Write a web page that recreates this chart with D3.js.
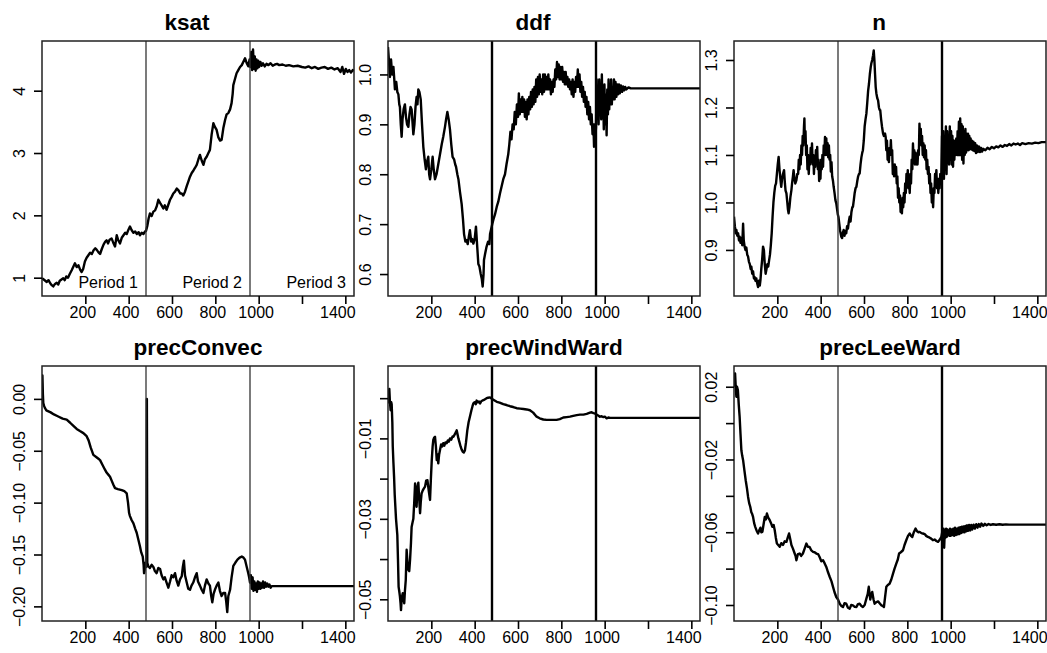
<!DOCTYPE html>
<html>
<head>
<meta charset="utf-8">
<script src="https://cdnjs.cloudflare.com/ajax/libs/d3/7.8.5/d3.min.js"></script>
<style>
  body { margin: 0; background: #fff; }
  svg { display: block; }
  text { font-family: "Liberation Sans", Arial, Helvetica, sans-serif; fill: #000; }
</style>
</head>
<body>
<script>
// x axis (iteration) ticks, shared by all panels
var iterTicks = [200, 400, 600, 800, 1000, 1200, 1400];
var iterLabels = ['200', '400', '600', '800', '1000', '', '1400'];
var iterLim = [0, 1440];
var periodBreaks = [480, 960];
var periodNames = ['Period 1', 'Period 2', 'Period 3'];

// ---- ksat ----
var ksatLim = [0.706, 4.797];
var ksatTicks = [1, 2, 3, 4];
var ksatLabels = ['1', '2', '3', '4'];
var ksat = [[0,0.99],[8,0.97],[15,0.95],[22,0.93],[30,0.96],[38,0.91],[45,0.88],[52,0.86],[60,0.9],[68,0.92],[75,0.89],[82,0.95],[90,0.97],[98,0.99],[105,0.96],[112,1.02],[120,1.0],[128,1.06],[137,1.12],[145,1.18],[152,1.23],[160,1.17],[168,1.2],[176,1.13],[183,1.09],[190,1.14],[198,1.26],[206,1.32],[214,1.36],[222,1.4],[230,1.38],[238,1.44],[246,1.47],[252,1.45],[260,1.41],[268,1.38],[276,1.46],[284,1.53],[292,1.58],[298,1.6],[305,1.55],[312,1.61],[321,1.63],[328,1.57],[337,1.5],[345,1.68],[352,1.6],[360,1.55],[368,1.64],[376,1.68],[384,1.72],[391,1.7],[399,1.77],[406,1.82],[414,1.76],[422,1.72],[430,1.74],[438,1.7],[446,1.73],[452,1.68],[460,1.72],[468,1.7],[475,1.74],[480,1.75],
  [486,1.83],[492,1.95],[498,2.03],[506,1.99],[514,2.06],[522,2.08],[530,2.15],[537,2.25],[545,2.2],[552,2.16],[560,2.11],[567,2.16],[575,2.09],[583,2.17],[591,2.25],[599,2.3],[606,2.35],[614,2.38],[622,2.43],[630,2.4],[638,2.35],[645,2.35],[652,2.32],[660,2.38],[668,2.47],[676,2.55],[683,2.62],[691,2.68],[699,2.72],[706,2.76],[714,2.81],[722,2.9],[729,2.97],[737,2.88],[745,2.81],[752,2.9],[760,2.94],[768,3.0],[775,3.05],[783,3.3],[791,3.48],[798,3.42],[806,3.37],[814,3.25],[822,3.2],[829,3.21],[837,3.4],[845,3.53],[852,3.62],[860,3.64],[868,3.7],[875,3.8],[880,3.95],[883,4.09],[890,4.18],[898,4.28],[906,4.33],[914,4.38],[922,4.41],[930,4.47],[937,4.52],[944,4.45],[952,4.39],[958,4.5],
  [962,4.38],[966,4.62],[970,4.33],[974,4.66],[978,4.35],[982,4.55],[986,4.32],[990,4.5],[994,4.36],[998,4.48],[1002,4.38],[1008,4.46],[1014,4.4],[1020,4.44],[1028,4.39],[1036,4.43],[1045,4.41],[1055,4.44],[1065,4.4],[1075,4.42],[1085,4.43],[1095,4.41],[1110,4.42],[1125,4.4],[1140,4.41],[1160,4.39],[1180,4.4],[1200,4.38],[1215,4.37],[1230,4.39],[1245,4.36],[1260,4.38],[1275,4.35],[1290,4.37],[1305,4.38],[1320,4.35],[1335,4.37],[1350,4.34],[1365,4.36],[1378,4.3],[1386,4.38],[1394,4.27],[1402,4.35],[1410,4.3],[1418,4.33],[1426,4.29],[1434,4.33],[1440,4.32]];

// ---- ddf ----
var ddfLim = [0.556, 1.067];
var ddfTicks = [0.6, 0.7, 0.8, 0.9, 1.0];
var ddfLabels = ['0.6', '0.7', '0.8', '0.9', '1.0'];
var ddf = [[0,1.055],[4,1.03],[9,0.995],[14,1.03],[19,1.0],[25,1.015],[29,0.99],[32,0.97],[38,0.985],[43,0.965],[48,0.96],[52,0.94],[55,0.935],[59,0.9],[63,0.875],[67,0.91],[72,0.93],[78,0.94],[83,0.915],[88,0.9],[94,0.895],[99,0.92],[104,0.935],[109,0.93],[113,0.905],[117,0.88],[122,0.9],[127,0.935],[132,0.955],[136,0.94],[140,0.97],[145,0.965],[151,0.95],[157,0.9],[163,0.855],[169,0.83],[175,0.81],[180,0.825],[186,0.835],[190,0.8],[194,0.79],[200,0.81],[206,0.835],[211,0.81],[217,0.79],[224,0.8],[232,0.82],[240,0.84],[248,0.86],[255,0.875],[263,0.895],[268,0.91],[274,0.925],[280,0.91],[286,0.89],[292,0.86],[298,0.835],[305,0.83],[310,0.82],[314,0.815],[320,0.8],[325,0.79],[332,0.765],[340,0.74],[346,0.71],[351,0.68],[357,0.665],[363,0.668],[368,0.66],[373,0.675],[378,0.688],[384,0.665],[389,0.67],[394,0.661],[400,0.67],[406,0.695],[411,0.66],[417,0.62],[422,0.615],[428,0.6],[433,0.59],[437,0.575],[441,0.6],[443,0.628],[448,0.64],[455,0.655],[462,0.665],[468,0.66],[471,0.68],[476,0.69],[481,0.7],
  [487,0.71],[494,0.72],[502,0.735],[509,0.745],[517,0.762],[524,0.775],[532,0.79],[540,0.8],[547,0.82],[555,0.84],
  [560,0.86],[565,0.885],[570,0.87],[575,0.9],[580,0.89],[585,0.925],[590,0.9],[595,0.94],[600,0.915],[604,0.962],[608,0.92],[612,0.95],[616,0.925],[620,0.955],[624,0.925],[628,0.95],[632,0.915],[636,0.945],[640,0.91],[644,0.95],[648,0.92],[652,0.955],[656,0.93],[660,0.965],[664,0.935],[668,0.97],[672,0.94],[676,0.975],[680,0.945],[684,0.99],[688,0.955],[692,0.995],[696,0.96],[700,1.0],[704,0.965],[708,0.99],[712,0.96],[716,1.0],[720,0.965],[724,1.0],[728,0.97],[732,0.995],[736,0.97],[740,1.0],[744,0.97],[748,0.99],[752,0.96],[756,0.985],[760,0.965],[764,0.99],[768,0.975],[772,1.01],[776,0.99],[780,1.025],[784,0.995],[788,1.02],[792,0.99],[796,1.015],[800,0.99],[804,1.015],[808,0.985],[812,1.005],[816,0.98],[820,1.005],[824,0.98],[828,0.995],[832,0.975],[836,0.99],[840,0.97],[844,0.985],[848,0.96],[852,0.99],[856,0.955],[860,0.985],[864,0.965],[868,0.995],[872,0.975],[876,1.01],[880,0.975],[884,1.0],[888,0.965],[892,0.985],[896,0.955],[900,0.975],[904,0.945],[908,0.965],[912,0.935],[916,0.955],[920,0.92],[924,0.945],[928,0.91],[932,0.935],[936,0.9],[940,0.92],[944,0.88],[948,0.9],[951,0.855],[954,0.9],[957,0.87],[960,0.895],
  [963,0.99],[966,0.93],[969,0.97],[972,0.9],[975,0.99],[978,0.92],[981,0.98],[984,0.91],[987,1.0],[990,0.93],[993,0.96],[996,0.89],[999,0.98],[1002,0.9],[1005,0.96],[1009,0.878],[1012,0.97],[1015,0.92],[1018,0.99],[1021,0.93],[1024,0.98],[1027,0.94],[1030,0.99],[1033,0.94],[1036,0.97],[1040,0.95],[1043,0.99],[1046,0.95],[1050,0.985],[1054,0.955],[1058,0.98],[1062,0.96],[1066,0.98],[1070,0.962],[1075,0.978],[1080,0.965],[1085,0.976],[1090,0.968],[1095,0.975],[1100,0.97],[1110,0.974],[1120,0.972],[1140,0.972],[1440,0.972]];

// ---- n ----
var nLim = [0.803, 1.34];
var nTicks = [0.9, 1.0, 1.1, 1.2, 1.3];
var nLabels = ['0.9', '1.0', '1.1', '1.2', '1.3'];
var nTrace = [[0,0.97],[4,0.95],[8,0.935],[11,0.942],[15,0.93],[19,0.935],[23,0.92],[26,0.928],[30,0.915],[34,0.925],[38,0.91],[42,0.955],[45,0.92],[49,0.907],[53,0.9],[57,0.905],[61,0.89],[65,0.886],[69,0.875],[73,0.87],[77,0.86],[80,0.865],[84,0.85],[88,0.855],[92,0.84],[95,0.843],[99,0.835],[103,0.84],[107,0.83],[111,0.822],[115,0.835],[119,0.825],[122,0.836],[126,0.86],[130,0.88],[134,0.907],[138,0.9],[142,0.87],[146,0.85],[150,0.86],[154,0.87],[158,0.865],[162,0.878],[166,0.89],[170,0.91],[174,0.935],[178,0.97],[182,1.0],[186,1.02],[190,1.035],[194,1.04],[198,1.06],[202,1.08],[206,1.096],[210,1.07],[214,1.05],[218,1.033],[222,1.05],[226,1.06],[231,1.068],[235,1.04],[238,1.025],[242,1.019],[246,1.0],[249,0.985],[252,0.977],[256,0.99],[260,1.01],[265,1.026],[268,1.04],[272,1.055],[275,1.068],[279,1.05],[283,1.04],[288,1.047],[292,1.06],
  [296,1.06],[299,1.09],[302,1.07],[305,1.1],[308,1.08],[311,1.12],[314,1.1],[317,1.14],[320,1.12],[323,1.16],[325,1.177],[327,1.13],[330,1.15],[333,1.1],[336,1.12],[339,1.07],[342,1.1],[345,1.06],[348,1.09],[351,1.08],[354,1.115],[357,1.085],[360,1.124],[363,1.08],[366,1.1],[369,1.06],[372,1.095],[375,1.075],[378,1.11],[381,1.085],[384,1.117],[387,1.07],[390,1.09],[393,1.045],[396,1.075],[399,1.05],[402,1.09],[405,1.07],[408,1.1],[411,1.075],[414,1.12],[417,1.1],[420,1.138],[423,1.1],[426,1.135],[429,1.1],[432,1.125],[435,1.095],[438,1.12],[441,1.09],[444,1.1],[447,1.065],[450,1.085],[453,1.055],[457,1.045],[460,1.033],[464,1.02],[468,1.005],[472,0.998],[476,0.985],[479,0.975],[482,0.97],
  [486,0.955],[490,0.94],[495,0.928],[499,0.925],[502,0.935],[506,0.942],[510,0.93],[514,0.94],[518,0.935],[522,0.95],[526,0.945],[530,0.96],[534,0.97],[538,0.96],[542,0.98],[546,0.99],[549,0.991],[553,1.005],[557,1.02],[561,1.03],[565,1.033],[569,1.045],[573,1.055],[577,1.06],[580,1.061],[584,1.08],[588,1.095],[592,1.105],[595,1.11],[599,1.13],[603,1.16],[607,1.175],[611,1.187],[615,1.21],[619,1.235],[623,1.25],[627,1.27],[631,1.285],[634,1.293],[638,1.3],[642,1.31],[645,1.32],[648,1.3],[651,1.27],[654,1.243],[657,1.23],[661,1.22],[665,1.215],[669,1.2],[672,1.195],[675,1.194],[679,1.175],[683,1.16],[688,1.145],[692,1.14],[697,1.145],
  [700,1.138],[703,1.11],[706,1.13],[709,1.09],[712,1.11],[715,1.085],[718,1.115],[721,1.1],[724,1.131],[727,1.1],[730,1.11],[733,1.06],[736,1.08],[739,1.055],[742,1.08],[745,1.06],[748,1.075],[751,1.04],[754,1.055],[757,1.01],[760,1.03],[763,1.0],[766,1.015],[769,0.98],[772,1.0],[775,0.977],[778,1.01],[781,0.99],[784,1.02],[787,1.0],[790,1.04],[793,1.02],[796,1.06],[799,1.035],[802,1.068],[805,1.03],[808,1.05],[811,1.02],[814,1.06],[817,1.04],[820,1.09],[823,1.07],[826,1.124],[829,1.09],[832,1.11],[835,1.08],[838,1.105],[841,1.08],[844,1.1],[847,1.08],[850,1.11],[853,1.1],[856,1.166],[859,1.13],[862,1.155],[865,1.12],[868,1.14],[871,1.1],[874,1.125],[877,1.095],[880,1.12],[883,1.09],[886,1.11],[889,1.07],[892,1.09],[895,1.06],[898,1.075],[901,1.04],[904,1.06],[907,1.02],[910,1.04],[913,1.0],[916,1.02],[919,0.99],[922,1.03],[925,1.02],[928,1.06],[931,1.04],[934,1.068],[937,1.03],[940,1.05],[943,1.02],[946,1.05],[949,1.03],[952,1.06],[955,1.04],[957,1.061],
  [960,1.14],[963,1.06],[966,1.15],[969,1.05],[972,1.14],[975,1.07],[978,1.16],[981,1.06],[984,1.15],[987,1.09],[990,1.14],[993,1.08],[996,1.16],[999,1.09],[1002,1.15],[1005,1.08],[1008,1.14],[1011,1.075],[1014,1.13],[1017,1.09],[1020,1.13],[1023,1.1],[1026,1.135],[1029,1.1],[1032,1.15],[1035,1.1],[1038,1.17],[1041,1.1],[1044,1.177],[1047,1.1],[1050,1.165],[1053,1.09],[1056,1.16],[1059,1.082],[1062,1.15],[1065,1.1],[1068,1.155],[1071,1.105],[1074,1.145],[1077,1.11],[1080,1.145],[1083,1.11],[1086,1.14],[1089,1.112],[1092,1.135],[1095,1.112],[1098,1.13],[1101,1.11],[1105,1.128],[1109,1.108],[1113,1.125],[1117,1.104],[1121,1.12],[1125,1.106],[1130,1.118],[1135,1.106],[1140,1.115],[1145,1.107],[1150,1.113],[1160,1.11],[1170,1.115],[1180,1.112],[1190,1.117],[1200,1.114],[1210,1.118],[1220,1.116],[1230,1.12],[1240,1.117],[1250,1.121],[1260,1.119],[1270,1.123],[1280,1.12],[1290,1.124],[1300,1.122],[1310,1.124],[1320,1.121],[1330,1.125],[1345,1.123],[1360,1.125],[1375,1.124],[1390,1.126],[1405,1.125],[1420,1.127],[1440,1.127]];

// ---- precConvec ----
var convLim = [-0.2141, 0.0317];
var convTicks = [-0.2, -0.15, -0.1, -0.05, 0];
var convLabels = ['\u22120.20', '\u22120.15', '\u22120.10', '\u22120.05', '0.00'];
var precConvec = [[0,0.0],[2,0.0225],[4,0.005],[6,-0.004],[10,-0.007],[14,-0.009],[20,-0.011],[30,-0.012],[40,-0.013],[55,-0.015],[75,-0.017],[95,-0.019],[114,-0.02],[130,-0.023],[145,-0.026],[160,-0.029],[175,-0.031],[191,-0.033],[206,-0.036],[215,-0.04],[225,-0.047],[237,-0.054],[250,-0.056],[262,-0.058],[268,-0.059],[280,-0.064],[290,-0.068],[298,-0.071],[306,-0.073],[314,-0.075],[322,-0.079],[330,-0.083],[337,-0.086],[350,-0.087],[368,-0.088],[380,-0.089],[391,-0.091],[397,-0.1],[402,-0.11],[406,-0.113],[414,-0.117],[422,-0.12],[430,-0.125],[437,-0.129],[444,-0.135],[452,-0.142],[458,-0.148],[465,-0.152],[469,-0.16],[471,-0.168],[474,-0.165],[477,-0.158],[480,-0.16],[482,-0.162],[484,0.0],[486,-0.158],[490,-0.161],[498,-0.163],[506,-0.16],[514,-0.162],[521,-0.166],[529,-0.168],[537,-0.163],[545,-0.164],[552,-0.17],[560,-0.174],[567,-0.172],[575,-0.177],[583,-0.182],[591,-0.176],[598,-0.17],[606,-0.172],[614,-0.168],[621,-0.175],[629,-0.18],[637,-0.174],[645,-0.171],[650,-0.162],[655,-0.156],[660,-0.17],[668,-0.177],[675,-0.183],[683,-0.184],[690,-0.18],[698,-0.177],[706,-0.172],[714,-0.168],[720,-0.176],[729,-0.18],[737,-0.184],[745,-0.187],[752,-0.18],[760,-0.174],[768,-0.178],[775,-0.18],[781,-0.19],[786,-0.196],[792,-0.188],[798,-0.184],[806,-0.18],[814,-0.177],[821,-0.185],[829,-0.19],[837,-0.187],[845,-0.187],[850,-0.195],[855,-0.2055],[860,-0.19],[868,-0.184],[875,-0.172],[883,-0.161],[892,-0.158],[902,-0.155],[912,-0.153],[922,-0.152],[930,-0.153],[937,-0.155],[945,-0.162],[952,-0.168],[956,-0.172],[960,-0.177],
  [964,-0.17],[968,-0.183],[972,-0.172],[976,-0.185],[980,-0.176],[984,-0.184],[988,-0.178],[992,-0.186],[996,-0.176],[1000,-0.183],[1004,-0.177],[1008,-0.183],[1012,-0.178],[1016,-0.182],[1020,-0.176],[1025,-0.182],[1030,-0.177],[1035,-0.181],[1040,-0.178],[1045,-0.181],[1050,-0.179],[1055,-0.182],[1060,-0.1805],[1440,-0.1805]];

// ---- precWindWard ----
var windLim = [-0.0554, 0.0080];
var windTicks = [-0.05, -0.04, -0.03, -0.02, -0.01, 0];
var windLabels = ['\u22120.05', '', '\u22120.03', '', '\u22120.01', ''];
var precWindWard = [[0,-0.0013],[3,0.0],[6,0.0023],[9,-0.001],[12,-0.003],[15,-0.001],[17,-0.0015],[20,-0.006],[22,-0.012],[25,-0.016],[28,-0.0195],[31,-0.024],[34,-0.027],[37,-0.03],[40,-0.032],[43,-0.034],[46,-0.04],[49,-0.0469],[52,-0.048],[55,-0.0493],[58,-0.051],[60,-0.0527],[63,-0.05],[66,-0.049],[68,-0.0485],[72,-0.05],[75,-0.051],[78,-0.048],[82,-0.0452],[86,-0.0377],[90,-0.041],[94,-0.0427],[98,-0.043],[102,-0.04],[106,-0.036],[109,-0.032],[113,-0.031],[117,-0.03],[121,-0.026],[125,-0.0212],[128,-0.025],[132,-0.027],[136,-0.022],[140,-0.021],[144,-0.025],[148,-0.0286],[151,-0.026],[155,-0.0237],[160,-0.023],[165,-0.0225],[171,-0.022],[176,-0.0205],[182,-0.0204],[188,-0.023],[194,-0.0253],[198,-0.02],[202,-0.0154],[206,-0.012],[209,-0.0104],[213,-0.0098],[217,-0.0096],[221,-0.012],[225,-0.0154],[229,-0.014],[232,-0.0162],[236,-0.014],[240,-0.0129],[245,-0.0115],[250,-0.012],[255,-0.0112],[260,-0.0118],[265,-0.011],[271,-0.0112],[276,-0.0105],[281,-0.0108],[286,-0.01],[292,-0.0103],[298,-0.0095],[302,-0.0096],[308,-0.009],[313,-0.0085],[317,-0.008],[321,-0.009],[325,-0.01],[330,-0.011],[335,-0.012],[340,-0.0128],[345,-0.0133],[350,-0.0135],[355,-0.013],[360,-0.011],[366,-0.008],[372,-0.006],[378,-0.0046],[385,-0.003],[390,-0.002],[394,-0.0013],[400,-0.001],[405,-0.0015],[409,-0.0006],[415,-0.001],[420,-0.0008],[425,-0.0013],[430,-0.0008],[435,-0.0006],[440,-0.0005],[447,-0.0003],[455,0.0],[462,0.0001],[471,0.0002],[476,0.0],[481,-0.0002],
  [490,-0.0005],[502,-0.0009],[515,-0.0011],[532,-0.0015],[547,-0.0017],[563,-0.002],[578,-0.0022],[594,-0.0025],[610,-0.0026],[625,-0.0027],[640,-0.0028],[655,-0.003],[670,-0.0036],[686,-0.0046],[700,-0.005],[717,-0.0053],[732,-0.0054],[748,-0.0054],[763,-0.0054],[778,-0.0054],[793,-0.0052],[809,-0.0048],[825,-0.0047],[840,-0.0046],[855,-0.0044],[871,-0.0042],[886,-0.0041],[902,-0.0041],[917,-0.0039],[932,-0.0036],[940,-0.0035],[948,-0.0037],[955,-0.0038],[963,-0.0041],[970,-0.0043],[978,-0.0046],[986,-0.0045],[994,-0.0047],[1001,-0.0046],[1009,-0.005],[1017,-0.0048],[1025,-0.0049],[1440,-0.0049]];

// ---- precLeeWard ----
var leeLim = [-0.1088, 0.0314];
var leeTicks = [-0.1, -0.08, -0.06, -0.04, -0.02, 0, 0.02];
var leeLabels = ['\u22120.10', '', '\u22120.06', '', '\u22120.02', '', '0.02'];
var precLeeWard = [[0,0.02],[3,0.024],[5,0.0273],[8,0.02],[11,0.0145],[14,0.02],[18,0.018],[22,0.01],[26,0.0035],[30,-0.006],[34,-0.0149],[38,-0.018],[42,-0.0204],[48,-0.026],[54,-0.0314],[60,-0.036],[65,-0.0406],[70,-0.044],[75,-0.046],[80,-0.049],[84,-0.05],[88,-0.0516],[93,-0.055],[98,-0.057],[104,-0.059],[111,-0.0607],[116,-0.059],[122,-0.0575],[126,-0.06],[131,-0.0598],[136,-0.056],[142,-0.0516],[147,-0.053],[152,-0.0497],[158,-0.052],[165,-0.0534],[171,-0.055],[177,-0.057],[183,-0.056],[188,-0.0589],[193,-0.063],[198,-0.0662],[204,-0.067],[211,-0.068],[218,-0.066],[226,-0.067],[234,-0.065],[242,-0.0653],[248,-0.063],[254,-0.0607],[260,-0.064],[265,-0.067],[272,-0.069],[280,-0.0717],[284,-0.073],[288,-0.0754],[295,-0.072],[303,-0.0717],[310,-0.073],[318,-0.0717],[326,-0.069],[334,-0.0662],[341,-0.068],[349,-0.0681],[357,-0.07],[365,-0.0708],[372,-0.071],[380,-0.0717],[388,-0.072],[395,-0.0736],[403,-0.076],[411,-0.0754],[418,-0.077],[426,-0.0791],[434,-0.082],[442,-0.0846],[450,-0.087],[457,-0.09],[464,-0.093],[472,-0.0956],[480,-0.097],[488,-0.0993],[495,-0.1005],[503,-0.1011],[510,-0.099],[518,-0.0993],[526,-0.1015],[534,-0.102],[541,-0.1],[549,-0.1002],[557,-0.101],[565,-0.1011],[572,-0.0995],[580,-0.0993],[588,-0.1005],[595,-0.1011],[603,-0.1],[611,-0.0965],[617,-0.094],[622,-0.09],[626,-0.094],[629,-0.097],[634,-0.094],[638,-0.0928],[644,-0.097],[649,-0.0993],[656,-0.0985],[665,-0.098],[672,-0.099],[680,-0.1002],[686,-0.1005],[692,-0.1011],[697,-0.096],[703,-0.09],[710,-0.089],[718,-0.0883],[726,-0.086],[734,-0.0828],[741,-0.08],[749,-0.0773],[756,-0.075],[762,-0.0717],[770,-0.071],[780,-0.0699],[787,-0.067],[795,-0.0644],[803,-0.062],[811,-0.0607],[817,-0.062],[823,-0.0626],[830,-0.06],[838,-0.058],[845,-0.0595],[851,-0.06],[857,-0.0598],[865,-0.0605],[872,-0.0607],[880,-0.061],[887,-0.062],[895,-0.0626],[903,-0.063],[910,-0.0635],[918,-0.0644],[926,-0.064],[934,-0.0648],[942,-0.0653],[950,-0.064],[957,-0.0626],
  [961,-0.06],[964,-0.067],[967,-0.058],[970,-0.0685],[973,-0.059],[976,-0.063],[979,-0.058],[982,-0.0625],[985,-0.0585],[988,-0.0615],[991,-0.059],[994,-0.062],[997,-0.058],[1000,-0.062],[1004,-0.0585],[1008,-0.0615],[1012,-0.058],[1016,-0.062],[1020,-0.0575],[1024,-0.0615],[1028,-0.058],[1032,-0.0612],[1036,-0.0575],[1040,-0.061],[1044,-0.0572],[1048,-0.0605],[1052,-0.057],[1056,-0.06],[1060,-0.0568],[1064,-0.06],[1068,-0.0565],[1072,-0.0595],[1076,-0.0562],[1080,-0.0592],[1085,-0.056],[1090,-0.059],[1095,-0.056],[1100,-0.0585],[1106,-0.0558],[1112,-0.058],[1118,-0.0556],[1124,-0.0575],[1130,-0.0555],[1136,-0.057],[1142,-0.0552],[1150,-0.0565],[1158,-0.0554],[1166,-0.0562],[1175,-0.0555],[1185,-0.056],[1195,-0.0556],[1210,-0.0559],[1225,-0.0556],[1240,-0.0559],[1255,-0.0557],[1270,-0.0558],[1440,-0.0558]];

var width = 1047, height = 653;
var boxLeft = [42, 388, 734];
var boxTop = [41, 366];
var boxW = 312, boxH = 255;

var panels = [
  { title: 'ksat', data: ksat, lim: ksatLim, ticks: ksatTicks, labels: ksatLabels, row: 0, col: 0, vw: [1.3, 1.3], periods: true },
  { title: 'ddf', data: ddf, lim: ddfLim, ticks: ddfTicks, labels: ddfLabels, row: 0, col: 1, vw: [2.4, 2.4] },
  { title: 'n', data: nTrace, lim: nLim, ticks: nTicks, labels: nLabels, row: 0, col: 2, vw: [1.3, 2.4] },
  { title: 'precConvec', data: precConvec, lim: convLim, ticks: convTicks, labels: convLabels, row: 1, col: 0, vw: [1.3, 1.3] },
  { title: 'precWindWard', data: precWindWard, lim: windLim, ticks: windTicks, labels: windLabels, row: 1, col: 1, vw: [2.4, 2.4] },
  { title: 'precLeeWard', data: precLeeWard, lim: leeLim, ticks: leeTicks, labels: leeLabels, row: 1, col: 2, vw: [1.3, 2.4] }
];

var svg = d3.select('body').append('svg').attr('width', width).attr('height', height);

panels.forEach(function (p, i) {
  var x0 = boxLeft[p.col], y0 = boxTop[p.row];
  var g = svg.append('g').attr('transform', 'translate(' + x0 + ',' + y0 + ')');

  var x = d3.scaleLinear().domain(iterLim).range([0, boxW]);
  var y = d3.scaleLinear().domain(p.lim).range([boxH, 0]);

  // clip for the trace
  svg.append('clipPath').attr('id', 'clip' + i)
    .append('rect').attr('width', boxW).attr('height', boxH);

  var line = d3.line()
    .x(function (d) { return x(d[0]); })
    .y(function (d) { return y(d[1]); });

  g.append('path')
    .datum(p.data)
    .attr('clip-path', 'url(#clip' + i + ')')
    .attr('d', line)
    .attr('fill', 'none')
    .attr('stroke', '#000')
    .attr('stroke-width', 2.4)
    .attr('stroke-linejoin', 'round');

  // period boundaries
  g.selectAll('line.vb')
    .data(periodBreaks)
    .enter().append('line')
    .attr('class', 'vb')
    .attr('x1', function (d) { return x(d); })
    .attr('x2', function (d) { return x(d); })
    .attr('y1', 0).attr('y2', boxH)
    .attr('stroke', function (d, j) { return p.vw[j] > 2 ? '#000' : '#333'; })
    .attr('stroke-width', function (d, j) { return p.vw[j]; });

  if (p.periods) {
    var ends = periodBreaks.concat([iterLim[1]]);
    g.selectAll('text.period')
      .data(periodNames)
      .enter().append('text')
      .attr('class', 'period')
      .attr('x', function (d, j) { return x(ends[j]) - 8; })
      .attr('y', boxH - 8)
      .attr('text-anchor', 'end')
      .style('font-size', '16px')
      .text(function (d) { return d; });
  }

  // box
  g.append('rect')
    .attr('width', boxW).attr('height', boxH)
    .attr('fill', 'none')
    .attr('stroke', '#222')
    .attr('stroke-width', 1.5);

  // x axis
  var xAxis = d3.axisBottom(x)
    .tickValues(iterTicks)
    .tickSize(8)
    .tickFormat(function (d, j) { return iterLabels[j]; });
  var gx = g.append('g').attr('transform', 'translate(0,' + boxH + ')').call(xAxis);
  gx.select('.domain').remove();
  gx.selectAll('line').attr('stroke', '#000').attr('stroke-width', 1.6);
  gx.selectAll('text')
    .attr('y', 11).attr('dy', '0.71em')
    .attr('dx', function (d, j) { return j === iterTicks.length - 1 ? -8 : -3; })
    .style('font-size', '16px');

  // y axis
  var yAxis = d3.axisLeft(y)
    .tickValues(p.ticks)
    .tickSize(8)
    .tickFormat(function (d, j) { return p.labels[j]; });
  var gy = g.append('g').call(yAxis);
  gy.select('.domain').remove();
  gy.selectAll('line').attr('stroke', '#000').attr('stroke-width', 1.6);
  gy.selectAll('text')
    .attr('x', null).attr('dy', null)
    .attr('text-anchor', 'middle')
    .attr('transform', 'translate(-17,0) rotate(-90)')
    .style('font-size', '16px');

  // title
  svg.append('text')
    .attr('x', x0 + boxW / 2 + (p.row === 0 ? -11 : 0))
    .attr('y', y0 - 11)
    .attr('text-anchor', 'middle')
    .style('font-size', '22.5px')
    .style('font-weight', 'bold')
    .text(p.title);
});
</script>
</body>
</html>
